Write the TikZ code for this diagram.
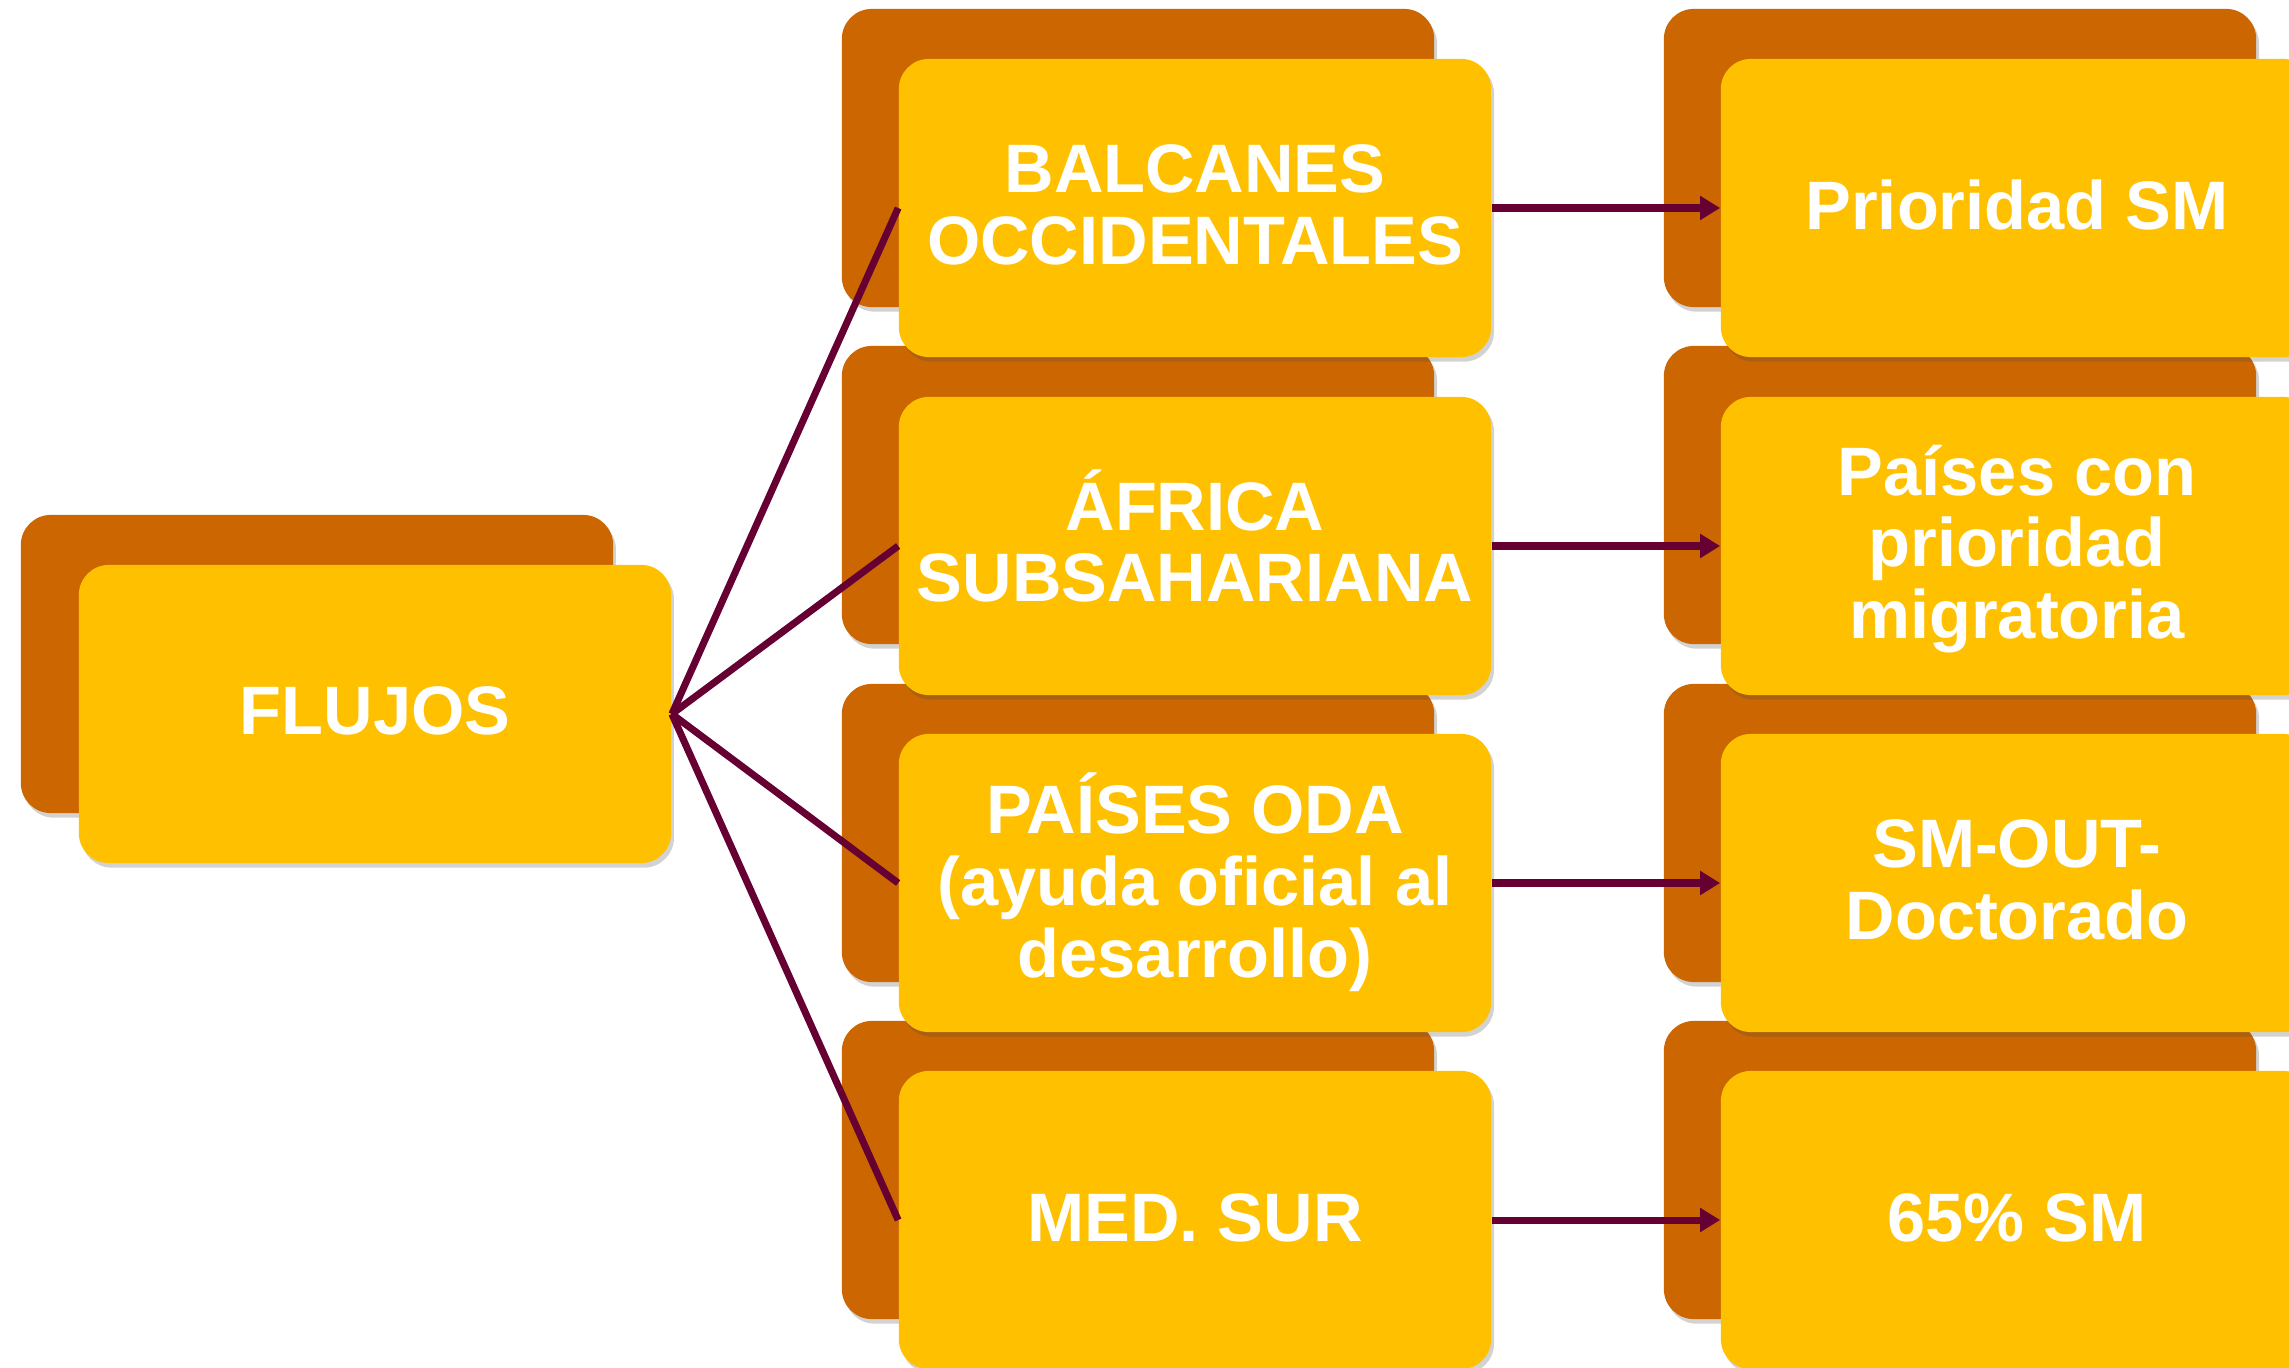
\documentclass[tikz,border=0pt]{standalone}
\usepackage{fontspec}
\setmainfont{Liberation Sans}
\usetikzlibrary{arrows.meta,shadows}
\definecolor{bk}{HTML}{CC6600}
\definecolor{fr}{HTML}{FFC000}
\definecolor{ln}{HTML}{660033}
\tikzset{
  boxbase/.style={rounded corners=0.3cm, minimum width=5.92cm, minimum height=2.98cm, inner sep=0pt,
    drop shadow={shadow xshift=0.8pt, shadow yshift=-1.3pt, fill=black!70, opacity=0.25}},
  backbox/.style={boxbase, fill=bk},
  frontbox/.style={boxbase, fill=fr},
  lbl/.style={text=white, align=center, inner sep=0pt,
    font=\fontsize{19.5}{20.4}\selectfont\bfseries},
  conn/.style={draw=ln, line width=2pt},
  arr/.style={conn, -{Triangle[length=0.2cm,width=0.23cm]}},
}
\begin{document}
\begin{tikzpicture}[x=0.01cm,y=-0.01cm]
\useasboundingbox (0,0) rectangle (2289,1367);
\clip (0,0) rectangle (2289,1367);
% back boxes
\node[backbox] (fb) at (317,664) {};
\node[backbox] (mb1) at (1138,158) {};
\node[backbox] (mb2) at (1138,495) {};
\node[backbox] (mb3) at (1138,833) {};
\node[backbox] (mb4) at (1138,1170) {};
\node[backbox] (rb1) at (1960,158) {};
\node[backbox] (rb2) at (1960,495) {};
\node[backbox] (rb3) at (1960,833) {};
\node[backbox] (rb4) at (1960,1170) {};
% front boxes
\node[frontbox] (f) at (375,714) {};
\node[frontbox] (m1) at (1195,208) {};
\node[frontbox] (m2) at (1195,546) {};
\node[frontbox] (m3) at (1195,883) {};
\node[frontbox] (m4) at (1195,1220) {};
\node[frontbox] (r1) at (2017,208) {};
\node[frontbox] (r2) at (2017,546) {};
\node[frontbox] (r3) at (2017,883) {};
\node[frontbox] (r4) at (2017,1220) {};
% labels
\node[lbl] (tf) at (375,711) {FLUJOS};
\node[lbl] (t1) at (1195,205) {BALCANES\\OCCIDENTALES};
\node[lbl] (t2) at (1195,536) {ÁFRICA\\SUBSAHARIANA};
\node[lbl] (t3) at (1195,882) {PAÍSES ODA\\(ayuda oficial al\\desarrollo)};
\node[lbl] (t4) at (1195,1218) {MED. SUR};
\node[lbl] (s1) at (2017,205) {Prioridad SM};
\node[lbl] (s2) at (2017,549) {Países con\\prioridad\\migratoria};
\node[lbl] (s3) at (2017,880) {SM-OUT-\\Doctorado};
\node[lbl] (s4) at (2017,1218) {65\% SM};
% connectors
\foreach \m in {m1,m2,m3,m4} \draw[conn] (f.east) -- (\m.west);
\foreach \i in {1,2,3,4} \draw[arr] (m\i.east) -- (r\i.west);
\end{tikzpicture}
\end{document}
